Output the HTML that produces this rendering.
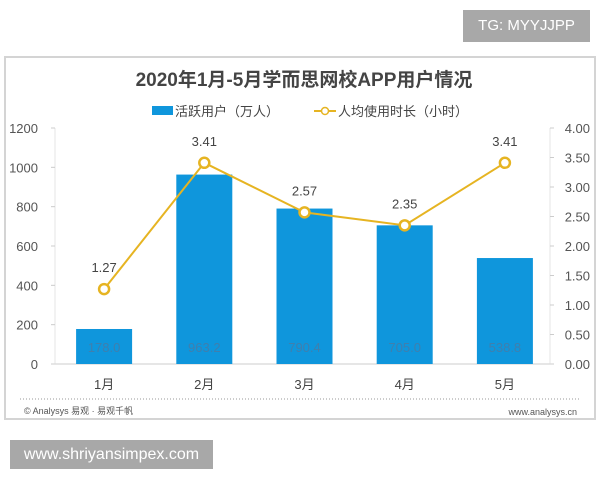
<!DOCTYPE html>
<html><head><meta charset="utf-8"><style>
body{margin:0;background:#fff;width:600px;height:480px;overflow:hidden;position:relative;font-family:"Liberation Sans","Noto Sans CJK SC",sans-serif}
#box{position:absolute;left:4px;top:56px;width:592px;height:364px;border:2px solid #d4d4d4;box-sizing:border-box}
#tg{position:absolute;left:463px;top:10px;width:127px;height:32px;background:#a8a8a8;color:#fff;font-size:15px;line-height:32px;text-align:center}
#wm{position:absolute;left:10px;top:440px;width:203px;height:29px;background:#a8a8a8;color:#fff;font-size:16px;line-height:29px;text-align:center}
svg{position:absolute;left:0;top:0}
</style></head><body>
<div id="box"></div>
<div id="tg">TG: MYYJJPP</div>
<div id="wm">www.shriyansimpex.com</div>
<svg id="c" width="600" height="480"></svg>
<script>
const categories=["1月","2月","3月","4月","5月"];
const users=[178.0,963.2,790.4,705.0,538.8];
const hours=[1.27,3.41,2.57,2.35,3.41];
const leftTicks=[0,200,400,600,800,1000,1200];
const rightTicks=[0,0.5,1,1.5,2,2.5,3,3.5,4];
const svg=document.getElementById('c');
const NS='http://www.w3.org/2000/svg';
const x0=52,x1=553,yb=364,yt=128;
const xc=i=>x0+(x1-x0)*(i+0.5)/categories.length+2;
const yL=v=>yb-(yb-yt)*v/1200;
const yR=v=>yb-(yb-yt)*v/4;
function mk(t,a,txt){const e=document.createElementNS(NS,t);for(const k in a)e.setAttribute(k,a[k]);if(txt!=null)e.textContent=txt;svg.appendChild(e);return e;}
let e;
e=mk('text',{x:304,y:86,'text-anchor':'middle','font-size':19,'font-weight':'bold',fill:'#444'},'2020年1月-5月学而思网校APP用户情况');


e=mk('rect',{x:152,y:106,width:21,height:9,fill:'#0f96dc'});


e=mk('text',{x:175,y:116,'font-size':13,fill:'#444'},'活跃用户（万人）');


e=mk('line',{x1:314,y1:111,x2:336,y2:111,stroke:'#e6b422','stroke-width':2});


e=mk('circle',{cx:325,cy:111,r:3.5,fill:'#fff',stroke:'#e6b422','stroke-width':1.5});


e=mk('text',{x:338,y:116,'font-size':13,fill:'#444'},'人均使用时长（小时）');


e=mk('line',{x1:55,y1:yt,x2:55,y2:yb,stroke:'#e4e4e4'});


e=mk('line',{x1:550,y1:yt,x2:550,y2:yb,stroke:'#e4e4e4'});


leftTicks.forEach(v=>{e=mk('text',{x:38,y:yL(v)+5,'text-anchor':'end','font-size':13,fill:'#555'},String(v));


mk('line',{x1:51,y1:yL(v),x2:55,y2:yL(v),stroke:'#ccc'});});
rightTicks.forEach(v=>{e=mk('text',{x:590,y:yR(v)+5,'text-anchor':'end','font-size':13,fill:'#555'},v.toFixed(2));


mk('line',{x1:550,y1:yR(v),x2:554,y2:yR(v),stroke:'#ccc'});});
e=mk('line',{x1:x0,y1:yb,x2:x1,y2:yb,stroke:'#ddd','stroke-width':1.5});


categories.forEach((c,i)=>{
e=mk('rect',{x:xc(i)-28,y:yL(users[i]),width:56,height:yb-yL(users[i]),fill:'#0f96dc'});


e=mk('text',{x:xc(i),y:352,'text-anchor':'middle','font-size':13,fill:'#3f7fae'},users[i].toFixed(1));


e=mk('text',{x:xc(i),y:389,'text-anchor':'middle','font-size':13,fill:'#444'},c);


});
e=mk('polyline',{points:hours.map((h,i)=>xc(i)+','+yR(h)).join(' '),fill:'none',stroke:'#e6b422','stroke-width':2});


hours.forEach((h,i)=>{
e=mk('circle',{cx:xc(i),cy:yR(h),r:5,fill:'#fff',stroke:'#e6b422','stroke-width':2.5});


e=mk('text',{x:xc(i),y:yR(h)-17,'text-anchor':'middle','font-size':13,fill:'#444'},h.toFixed(2));


});
e=mk('line',{x1:20,y1:399,x2:579,y2:399,stroke:'#999','stroke-dasharray':'1,2'});


e=mk('text',{x:24,y:414,'font-size':9,fill:'#555'},'© Analysys 易观 · 易观千帆');


e=mk('text',{x:577,y:415,'text-anchor':'end','font-size':9,fill:'#555'},'www.analysys.cn');


</script>
</body></html>
